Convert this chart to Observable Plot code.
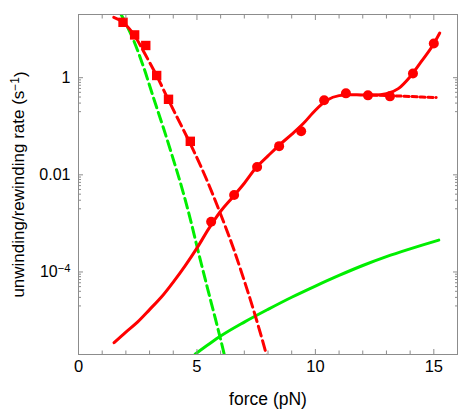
<!DOCTYPE html>
<html><head><meta charset="utf-8">
<script src="https://cdn.jsdelivr.net/npm/d3@7"></script>
<script src="https://cdn.jsdelivr.net/npm/@observablehq/plot@0.6"></script>
<style>html,body{margin:0;padding:0;background:#fff}</style>
</head><body><div id="chart"></div>
<script>
// ---- data ----
const unwindDataForce = [5.6, 6.57, 7.54, 8.47, 9.4, 10.37, 11.29, 12.22, 13.15, 14.12, 15.0];
const unwindDataRate  = [1.08e-3, 3.85e-3, 0.0145, 0.039, 0.079, 0.342, 0.476, 0.433, 0.413, 1.22, 5.05];

const rewindDataForce = [1.88, 2.37, 2.84, 3.3, 3.8, 4.72];
const rewindDataRate  = [13.8, 7.6, 4.6, 1.11, 0.359, 0.049];

const unwindFitForce = [1.5, 2, 2.5, 3, 3.5, 4, 4.5, 5, 5.5, 6, 6.5, 7, 7.5, 8, 8.5, 9, 9.5, 10, 10.5, 11, 11.5, 12, 12.5, 13, 13.5, 14, 14.5, 15, 15.25];
const unwindFitRate  = [3.5e-6, 5.8e-6, 9.4e-6, 1.68e-5, 3.05e-5, 6.2e-5, 1.34e-4, 3.1e-4, 7.8e-4, 1.78e-3, 3.43e-3, 6.7e-3, 0.0141, 0.0245, 0.042, 0.068, 0.115, 0.214, 0.347, 0.427, 0.447, 0.44, 0.44, 0.468, 0.595, 1.05, 2.24, 5.0, 8.3];

const plateauForce = [12.4, 13.5, 14.5, 15.1];
const plateauRate  = [0.44, 0.42, 0.40, 0.39];

const rewindFitForce = [1.49, 1.88, 2.36, 2.82, 3.32, 3.78, 4.25, 4.72, 5.39, 5.98, 6.54, 6.97, 7.46, 7.91, 8.0];
const rewindFitRate  = [17.5, 13.8, 7.4, 3.0, 1.05, 0.363, 0.126, 0.0437, 8.4e-3, 1.64e-3, 3.07e-4, 7.3e-5, 1.27e-5, 2.18e-6, 1.5e-6];

const greenDashForce = [1.8, 2.33, 2.75, 3.17, 3.59, 3.95, 4.37, 4.72, 5.0, 5.42, 5.84, 6.12, 6.2];
const greenDashRate  = [20, 5.82, 1.64, 0.38, 0.0908, 0.0251, 5.28e-3, 1.23e-3, 3.39e-4, 5.19e-5, 8.3e-6, 2.34e-6, 1.58e-6];

const greenSolidForce = [4.93, 5.5, 6, 7, 8, 9, 10, 11, 12, 13, 14, 15, 15.21];
const greenSolidRate  = [2.04e-6, 3.24e-6, 4.79e-6, 9.3e-6, 1.70e-5, 3.02e-5, 5.13e-5, 8.5e-5, 1.36e-4, 2.07e-4, 2.99e-4, 4.22e-4, 4.52e-4];

// ---- ticks and labels ----
const xMajorTicks = [0, 5, 10, 15];
const xMinorTicks = [1, 2, 3, 4, 6, 7, 8, 9, 11, 12, 13, 14];
const yMajorTicks = [1e-4, 1e-2, 1];
const yMajorLabels = ["10^-4", "0.01", "1"];
const yMinorTicks = [2e-5, 3e-5, 4e-5, 5e-5, 6e-5, 7e-5, 8e-5, 9e-5,
                     2e-3, 3e-3, 4e-3, 5e-3, 6e-3, 7e-3, 8e-3, 9e-3,
                     0.2, 0.3, 0.4, 0.5, 0.6, 0.7, 0.8, 0.9];
const xLabel = "force (pN)";
const yLabel = "unwinding/rewinding rate (s^-1)";

const rows = (xs, ys) => xs.map((x, i) => ({x, y: ys[i]}));
const RED = "#ff0000", GREEN = "#00ee00", AXIS = "#8c8c8c";

const tickFmtY = d => yMajorLabels[yMajorTicks.indexOf(d)];

const plot = Plot.plot({
  width: 470, height: 415,
  marginLeft: 78, marginRight: 13, marginTop: 14, marginBottom: 61,
  style: {fontFamily: "'Liberation Sans', Arial, Helvetica, sans-serif", fontSize: "16px", background: "white", color: "black"},
  x: {domain: [0, 16]},
  y: {type: "log", domain: [2e-6, 20]},
  marks: [
    // green model curves
    Plot.line(rows(greenSolidForce, greenSolidRate), {x: "x", y: "y", stroke: GREEN, strokeWidth: 3, curve: "monotone-x", clip: true}),
    Plot.line(rows(greenDashForce, greenDashRate), {x: "x", y: "y", stroke: GREEN, strokeWidth: 3, strokeDasharray: "10,5", curve: "monotone-x", clip: true}),
    // red fits
    Plot.line(rows(rewindFitForce, rewindFitRate), {x: "x", y: "y", stroke: RED, strokeWidth: 3, strokeDasharray: "10,5", curve: "monotone-x", clip: true}),
    Plot.line(rows(plateauForce, plateauRate), {x: "x", y: "y", stroke: RED, strokeWidth: 3, strokeDasharray: "5,3", curve: "monotone-x", clip: true}),
    Plot.line(rows(unwindFitForce, unwindFitRate), {x: "x", y: "y", stroke: RED, strokeWidth: 3, curve: "monotone-x", clip: true}),
    // data
    Plot.dot(rows(unwindDataForce, unwindDataRate), {x: "x", y: "y", r: 5, fill: RED, stroke: "none"}),
    Plot.dot(rows(rewindDataForce, rewindDataRate), {x: "x", y: "y", r: 5.3, symbol: "square", fill: RED, stroke: "none"}),
    // frame
    Plot.frame({stroke: AXIS, strokeWidth: 1}),
    // x axis: labels + inward ticks on bottom and top
    Plot.axisX(xMajorTicks, {anchor: "bottom", tickSize: 0, tickPadding: 6, tickFormat: d => String(d), label: null, fontSize: 16.5}),
    Plot.axisX(xMajorTicks, {anchor: "bottom", tickSize: -5, tickFormat: () => "", label: null, stroke: AXIS}),
    Plot.axisX(xMinorTicks, {anchor: "bottom", tickSize: -3.5, tickFormat: () => "", label: null, stroke: AXIS}),
    Plot.axisX(xMajorTicks, {anchor: "top", tickSize: -5, tickFormat: () => "", label: null, stroke: AXIS}),
    Plot.axisX(xMinorTicks, {anchor: "top", tickSize: -3.5, tickFormat: () => "", label: null, stroke: AXIS}),
    // y axis: labels + inward ticks on left and right
    Plot.axisY(yMajorTicks, {anchor: "left", tickSize: 0, tickPadding: 8, tickFormat: tickFmtY, label: null, fontSize: 16}),
    Plot.axisY(yMajorTicks, {anchor: "left", tickSize: -5, tickFormat: () => "", label: null, stroke: AXIS}),
    Plot.axisY(yMinorTicks, {anchor: "left", tickSize: -3, tickFormat: () => "", label: null, stroke: AXIS}),
    Plot.axisY(yMajorTicks, {anchor: "right", tickSize: -5, tickFormat: () => "", label: null, stroke: AXIS}),
    Plot.axisY(yMinorTicks, {anchor: "right", tickSize: -3, tickFormat: () => "", label: null, stroke: AXIS}),
    // axis titles
    Plot.text([xLabel], {frameAnchor: "bottom", dy: 45, textAnchor: "middle", lineAnchor: "middle", fontSize: 17.5, fill: "black"}),
    Plot.text([yLabel], {frameAnchor: "left", dx: -60, dy: 0, rotate: -90, textAnchor: "middle", lineAnchor: "middle", fontSize: 17, fill: "black"})
  ]
});

// superscripts
function supify(node, text) {
  const m = text.match(/^(.*?)\^(-?\d+)(.*)$/);
  if (!m) return;
  const sel = d3.select(node);
  sel.text(null);
  sel.append("tspan").text(m[1]);
  sel.append("tspan").attr("dy", "-0.45em").attr("font-size", "0.7em").text(m[2].replace("-", "\u2212"));
  if (m[3]) sel.append("tspan").attr("dy", "0.45em").text(m[3]);
}
d3.select(plot).selectAll("text").each(function () {
  const t = this.textContent;
  if (t.includes("^")) supify(this, t);
});

document.getElementById("chart").appendChild(plot);
</script>
</body></html>
